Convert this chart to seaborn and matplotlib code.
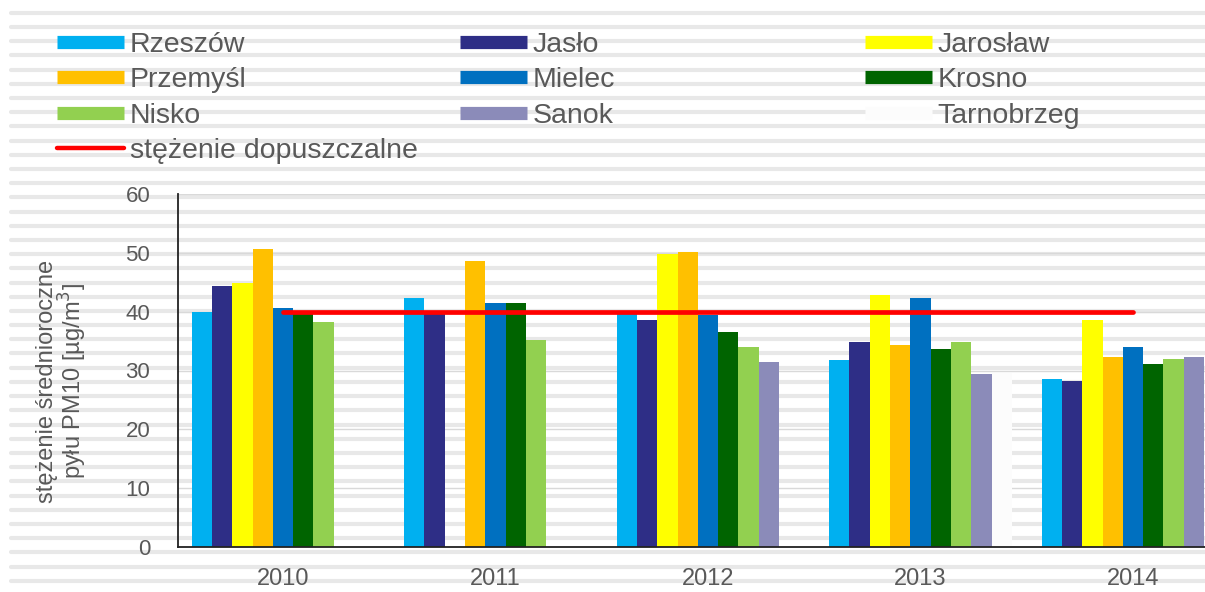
import numpy as np
import pandas as pd
import seaborn as sns
import matplotlib.pyplot as plt
from matplotlib.lines import Line2D

years = ['2010', '2011', '2012', '2013', '2014']
cities = ['Rzeszów', 'Jasło', 'Jarosław', 'Przemyśl', 'Mielec',
          'Krosno', 'Nisko', 'Sanok', 'Tarnobrzeg']

rzeszow = [40.0, 42.3, 39.9, 31.7, 28.5]
jaslo = [44.3, 39.8, 38.6, 34.9, 28.2]
jaroslaw = [44.8, np.nan, 49.8, 42.9, 38.6]
przemysl = [50.7, 48.6, 50.2, 34.3, 32.3]
mielec = [40.6, 41.4, 39.5, 42.3, 34.0]
krosno = [39.6, 41.4, 36.6, 33.7, 31.1]
nisko = [38.3, 35.1, 34.0, 34.9, 32.0]
sanok = [np.nan, np.nan, 31.4, 29.4, 32.3]
tarnobrzeg = [np.nan, np.nan, np.nan, 29.6, np.nan]
limit = [40, 40, 40, 40, 40]

colors = ['#00B0F0', '#2E2E86', '#FFFF00', '#FFC000', '#0070C0',
          '#006400', '#92D050', '#8B8BB9', '#FCFCFC']

series = [rzeszow, jaslo, jaroslaw, przemysl, mielec, krosno, nisko, sanok, tarnobrzeg]
rows = []
for city, vals in zip(cities, series):
    for yr, v in zip(years, vals):
        rows.append({'rok': yr, 'miasto': city, 'wartosc': v})
df = pd.DataFrame(rows)

sns.set_style("white")
plt.rcParams['font.family'] = ['Liberation Sans', 'DejaVu Sans']
grey = '#595959'

W, H = 1205, 592
fig = plt.figure(figsize=(W / 100, H / 100), dpi=100)
fig.patch.set_facecolor('white')

# striped background of the original scan
for y in np.arange(12.7, H, 14.2):
    fig.add_artist(Line2D([11 / W, 1], [1 - y / H, 1 - y / H], transform=fig.transFigure,
                          color='#E8E8E8', lw=3, zorder=-5))

ax = fig.add_axes([178 / W, 45 / H, 1 - 178 / W, (547 - 194) / H])
ax.patch.set_alpha(0)

sns.barplot(data=df, x='rok', y='wartosc', hue='miasto', order=years, hue_order=cities,
            palette=colors, saturation=1, width=0.86, errorbar=None, linewidth=0,
            legend=False, ax=ax, zorder=3)
ax.plot(np.arange(len(years)), limit, color='#FF0000', lw=3.4, zorder=5,
        solid_capstyle='round')

ax.set_xlim(-0.494, 4.339)
ax.set_ylim(0, 60)
ax.set_yticks(range(0, 61, 10))
ax.yaxis.grid(True, color='#D9D9D9', lw=1)
ax.set_axisbelow(True)
for s in ['top', 'right']:
    ax.spines[s].set_visible(False)
for s in ['left', 'bottom']:
    ax.spines[s].set_color('#222222')
    ax.spines[s].set_linewidth(1.3)
    ax.spines[s].set_zorder(6)
ax.tick_params(axis='y', length=0, pad=20, labelsize=16, labelcolor=grey)
ax.tick_params(axis='x', length=0, pad=15, labelsize=17, labelcolor=grey)
ax.set_xlabel('')
ax.set_ylabel('stężenie średnioroczne\npyłu PM10 [µg/m$^3$]', fontsize=17, color=grey,
              linespacing=0.95)
ax.yaxis.set_label_coords(-0.087, 0.47)

# legend in three columns
def handle(c):
    return Line2D([], [], color=c, lw=9.5, solid_capstyle='butt')

col1 = [(handle(colors[0]), cities[0]), (handle(colors[3]), cities[3]),
        (handle(colors[6]), cities[6]),
        (Line2D([], [], color='#FF0000', lw=3.2, solid_capstyle='round'), 'stężenie dopuszczalne')]
col2 = [(handle(colors[1]), cities[1]), (handle(colors[4]), cities[4]),
        (handle(colors[7]), cities[7])]
col3 = [(handle(colors[2]), cities[2]), (handle(colors[5]), cities[5]),
        (handle(colors[8]), cities[8])]

for items, x0 in [(col1, 57), (col2, 460), (col3, 865)]:
    leg = fig.legend([h for h, _ in items], [t for _, t in items], loc='upper left',
                     bbox_to_anchor=(x0 / W, 1 - 32 / H), frameon=False, fontsize=20.5,
                     handlelength=2.35, handletextpad=0.2, labelspacing=0.33,
                     borderaxespad=0, borderpad=0)
    for t in leg.get_texts():
        t.set_color(grey)

fig.savefig('out.png', dpi=100)
